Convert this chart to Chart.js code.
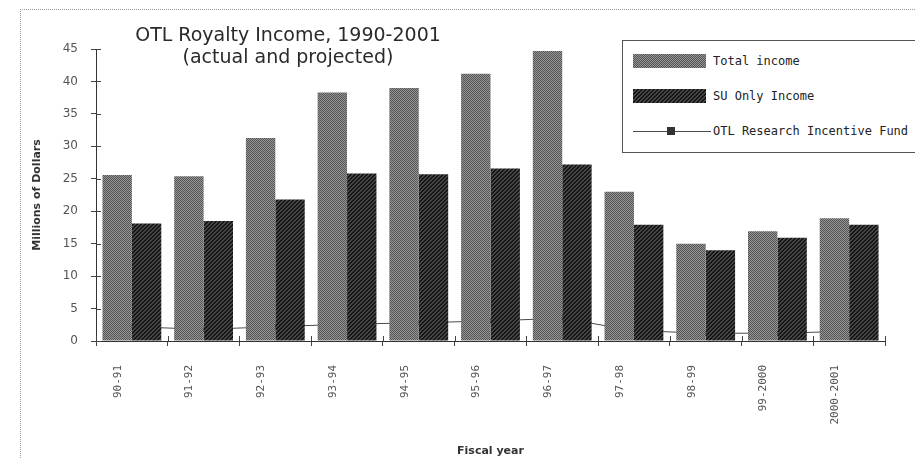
<!DOCTYPE html>
<html>
<head>
<meta charset="utf-8">
<script src="https://cdn.jsdelivr.net/npm/chart.js@4.4.1/dist/chart.umd.min.js"></script>
<style>
  html, body { margin: 0; padding: 0; background: #fff; }
  body { width: 915px; height: 459px; position: relative; overflow: hidden; }
  #frame { position: absolute; left: 20px; top: 9px; width: 900px; height: 460px;
           border-left: 1px dotted #9a9a9a; border-top: 1px dotted #9a9a9a; }
  #chart { position: absolute; left: 0; top: 0; }
  #title { position: absolute; left: 88px; width: 400px; top: 23px; text-align: center;
           font-family: "DejaVu Sans", sans-serif; font-size: 19px; line-height: 22px; color: #2a2a2a; }
  #legend { position: absolute; left: 622px; top: 40px; width: 310px; height: 113px;
            border: 1px solid #555; box-sizing: border-box; background: #fff; }
  .item { position: absolute; left: 10px; height: 16px; display: flex; align-items: center; }
  .swatch { width: 73px; height: 14px; margin-right: 7px; }
  .lineSample { width: 78px; height: 14px; margin-right: 2px; position: relative; }
  .lineSample .ln { position: absolute; left: 0; right: 0; top: 7px; height: 1px; }
  .lineSample .mk { position: absolute; left: 34px; top: 3px; width: 8px; height: 8px; }
  .label { font-family: "DejaVu Sans Mono", monospace; font-size: 12px; color: #222; white-space: nowrap; }
</style>
</head>
<body>
<div id="frame"></div>
<canvas id="chart" width="915" height="459"></canvas>
<div id="title">OTL Royalty Income, 1990-2001<br>(actual and projected)</div>
<div id="legend"></div>
<script>
// Fiscal years on the category axis
const fiscalYears = ['90-91', '91-92', '92-93', '93-94', '94-95', '95-96', '96-97', '97-98', '98-99', '99-2000', '2000-2001'];
// Royalty income, millions of dollars
const totalIncome = [25.6, 25.4, 31.3, 38.3, 39.0, 41.2, 44.7, 23.0, 15.0, 16.9, 18.9];
const suOnlyIncome = [18.1, 18.5, 21.8, 25.8, 25.7, 26.6, 27.2, 17.9, 14.0, 15.9, 17.9];
const researchIncentiveFund = [2.2, 1.8, 2.2, 2.6, 2.8, 3.1, 3.5, 1.6, 1.2, 1.2, 1.5];
// Value axis
const yTicks = { min: 0, max: 45, step: 5 };
const seriesNames = ['Total income', 'SU Only Income', 'OTL Research Incentive Fund'];

// Small dithered fills, like a halftoned print
function ditherCanvas(light, dark, diagonal) {
  const c = document.createElement('canvas');
  c.width = 4; c.height = 4;
  const g = c.getContext('2d');
  for (let y = 0; y < 4; y++) {
    for (let x = 0; x < 4; x++) {
      const on = diagonal ? ((x + y) % 4 < 2) : ((x + y) % 2 === 0);
      g.fillStyle = on ? dark : light;
      g.fillRect(x, y, 1, 1);
    }
  }
  return c;
}
const ctx = document.getElementById('chart').getContext('2d');
const totalTile = ditherCanvas('#969696', '#545454', false);
const suTile = ditherCanvas('#474747', '#141414', true);
const totalFill = ctx.createPattern(totalTile, 'repeat');
const suFill = ctx.createPattern(suTile, 'repeat');

// Short marks that cross the axes at every tick
const crossTicks = {
  id: 'crossTicks',
  afterDraw(chart) {
    const { ctx, chartArea, scales } = chart;
    ctx.save();
    ctx.strokeStyle = '#444';
    ctx.lineWidth = 1;
    ctx.beginPath();
    scales.y.ticks.forEach((t, i) => {
      const y = Math.round(scales.y.getPixelForTick(i)) + 0.5;
      ctx.moveTo(chartArea.left, y);
      ctx.lineTo(chartArea.left + 5, y);
    });
    const n = scales.x.ticks.length;
    const step = (chartArea.right - chartArea.left) / n;
    for (let i = 0; i <= n; i++) {
      const x = Math.round(chartArea.left + i * step) + 0.5;
      ctx.moveTo(x, chartArea.bottom);
      ctx.lineTo(x, chartArea.bottom - 5);
    }
    ctx.stroke();
    ctx.restore();
  }
};

const chart = new Chart(ctx, {
  data: {
    labels: fiscalYears,
    datasets: [
      // drawn first, so the bars sit over it
      { type: 'line', label: seriesNames[2], data: researchIncentiveFund, order: 2,
        borderColor: '#4a4a4a', borderWidth: 1, pointStyle: 'rect', pointRadius: 3,
        pointBackgroundColor: '#333', pointBorderColor: '#333', tension: 0 },
      { type: 'bar', label: seriesNames[0], data: totalIncome, order: 1,
        backgroundColor: totalFill, borderWidth: 0 },
      { type: 'bar', label: seriesNames[1], data: suOnlyIncome, order: 1,
        backgroundColor: suFill, borderWidth: 0 }
    ]
  },
  options: {
    responsive: false,
    animation: false,
    devicePixelRatio: 1,
    layout: { padding: { top: 49, right: 30, left: 0, bottom: 0 } },
    datasets: { bar: { categoryPercentage: 0.82, barPercentage: 1.0 } },
    plugins: { legend: { display: false }, tooltip: { enabled: false } },
    scales: {
      x: {
        offset: true,
        afterFit: s => { s.height = 118; },
        grid: { display: true, drawOnChartArea: false, drawTicks: true, tickLength: 5, color: '#444', offset: true },
        border: { display: true, color: '#333', width: 1 },
        ticks: { minRotation: 90, maxRotation: 90, autoSkip: false, padding: 19, labelOffset: -14,
                  font: { family: 'DejaVu Sans Mono', size: 11 }, color: '#555' },
        title: { display: true, text: 'Fiscal year', color: '#333',
                 font: { family: 'DejaVu Sans', size: 11, weight: 'bold' }, padding: { top: 0, bottom: 1 } }
      },
      y: {
        min: yTicks.min, max: yTicks.max,
        afterFit: s => { s.width = 96; },
        grid: { display: true, drawOnChartArea: false, drawTicks: true, tickLength: 5, color: '#444' },
        border: { display: true, color: '#333', width: 1 },
        ticks: { stepSize: yTicks.step, padding: 13, font: { family: 'DejaVu Sans', size: 12 }, color: '#555' },
        title: { display: true, text: 'Millions of Dollars', color: '#333',
                 font: { family: 'DejaVu Sans', size: 11, weight: 'bold' }, padding: { top: 31, bottom: 0 } }
      }
    }
  },
  plugins: [crossTicks]
});

// Boxed legend built from the chart's datasets
const legend = document.getElementById('legend');
const tiles = [totalTile.toDataURL(), suTile.toDataURL()];
const rows = [
  { ds: chart.data.datasets[1], top: 12, tile: tiles[0] },
  { ds: chart.data.datasets[2], top: 47, tile: tiles[1] },
  { ds: chart.data.datasets[0], top: 82, tile: null }
];
rows.forEach(r => {
  const item = document.createElement('div');
  item.className = 'item';
  item.style.top = r.top + 'px';
  if (r.tile) {
    const sw = document.createElement('div');
    sw.className = 'swatch';
    sw.style.backgroundImage = 'url(' + r.tile + ')';
    item.appendChild(sw);
  } else {
    const ls = document.createElement('div');
    ls.className = 'lineSample';
    const ln = document.createElement('div');
    ln.className = 'ln';
    ln.style.background = r.ds.borderColor;
    const mk = document.createElement('div');
    mk.className = 'mk';
    mk.style.background = r.ds.pointBackgroundColor;
    ls.appendChild(ln); ls.appendChild(mk);
    item.appendChild(ls);
  }
  const lb = document.createElement('span');
  lb.className = 'label';
  lb.textContent = r.ds.label;
  item.appendChild(lb);
  legend.appendChild(item);
});
</script>
</body>
</html>
